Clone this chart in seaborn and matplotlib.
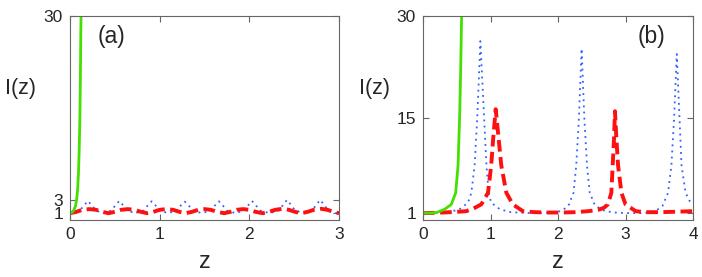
import numpy as np
import pandas as pd
import seaborn as sns
from matplotlib import pyplot as plt

#%% DATA

# panel (a)
za_green = [0, 0.02, 0.04, 0.06, 0.074, 0.085, 0.095, 0.103, 0.11, 0.116, 0.12, 0.124]
Ia_green = [1, 1.1, 1.4, 2.0, 3.0, 4.5, 7, 10.5, 15, 21, 27, 31]

za_blue = [0, 0.11, 0.16, 0.20, 0.24, 0.29, 0.375, 0.46, 0.51, 0.55, 0.59, 0.64,
           0.73, 0.82, 0.87, 0.91, 0.95, 1.0, 1.095, 1.19, 1.24, 1.28, 1.32, 1.37,
           1.47, 1.57, 1.62, 1.66, 1.70, 1.75, 1.845, 1.94, 1.99, 2.03, 2.07, 2.12,
           2.225, 2.33, 2.38, 2.42, 2.46, 2.51, 2.605, 2.70, 2.75, 2.79, 2.83, 2.88,
           2.97, 3.0]
Ia_blue = [1.0, 1.4, 2.2, 2.8, 2.2, 1.4, 1.0, 1.4, 2.2, 2.8, 2.2, 1.4,
           1.0, 1.4, 2.2, 2.75, 2.2, 1.4, 1.0, 1.4, 2.2, 2.7, 2.2, 1.4,
           1.0, 1.4, 2.2, 2.75, 2.2, 1.4, 1.0, 1.4, 2.2, 2.8, 2.2, 1.4,
           1.0, 1.4, 2.3, 2.95, 2.3, 1.4, 1.0, 1.4, 2.3, 2.95, 2.3, 1.4,
           1.0, 1.05]

za_red = [0, 0.07, 0.14, 0.215, 0.29, 0.36, 0.43, 0.50, 0.57, 0.645, 0.72, 0.79,
          0.86, 0.93, 1.0, 1.075, 1.15, 1.22, 1.29, 1.36, 1.43, 1.5, 1.57, 1.64,
          1.72, 1.79, 1.86, 1.93, 2.0, 2.07, 2.15, 2.22, 2.29, 2.37, 2.44, 2.51,
          2.58, 2.65, 2.72, 2.80, 2.87, 2.94, 3.0]
Ia_red = [1.0, 1.2, 1.5, 1.6, 1.5, 1.2, 1.0, 1.2, 1.5, 1.6, 1.5, 1.2,
          1.0, 1.2, 1.5, 1.6, 1.5, 1.2, 1.0, 1.2, 1.5, 1.6, 1.5, 1.2,
          1.0, 1.2, 1.5, 1.6, 1.5, 1.2, 1.0, 1.2, 1.5, 1.65, 1.5, 1.2,
          1.0, 1.2, 1.5, 1.65, 1.5, 1.2, 1.0]

# panel (b)
zb_green = [0, 0.1, 0.2, 0.32, 0.42, 0.484, 0.519, 0.543, 0.558, 0.568, 0.575]
Ib_green = [1, 1.02, 1.1, 1.57, 2.3, 4.0, 8.0, 15.3, 22, 28, 31]

zb_blue = [0, 0.2, 0.4, 0.54, 0.667, 0.716, 0.765, 0.805, 0.85, 0.904, 0.94, 0.973,
           1.01, 1.14, 1.3, 1.5, 1.7, 1.85, 1.95, 2.05, 2.155, 2.23, 2.27, 2.31,
           2.35, 2.39, 2.43, 2.47, 2.55, 2.70, 2.85, 3.0, 3.2, 3.35, 3.45, 3.55,
           3.63, 3.68, 3.72, 3.76, 3.80, 3.83, 3.89, 3.95, 4.0]
Ib_blue = [1.0, 1.05, 1.2, 1.57, 2.55, 4.0, 8.0, 15.3, 26.3, 15.3, 8.0, 4.0,
           2.55, 1.57, 1.15, 1.05, 1.0, 1.1, 1.2, 1.3, 2.1, 4.0, 8.0, 15,
           25.2, 15, 8.0, 4.0, 2.1, 1.3, 1.1, 1.02, 1.0, 1.1, 1.35, 2.1,
           4.0, 8.0, 15, 24.4, 15, 8.0, 4.0, 2.8, 2.3]

zb_red = [0, 0.3, 0.5, 0.64, 0.75, 0.864, 0.963, 1.01, 1.04, 1.077, 1.12, 1.16,
          1.235, 1.33, 1.48, 1.65, 1.85, 2.05, 2.25, 2.45, 2.6, 2.68, 2.74, 2.79,
          2.81, 2.83, 2.844, 2.865, 2.89, 2.94, 3.0, 3.15, 3.3, 3.5, 3.7, 4.0]
Ib_red = [1.0, 1.1, 1.2, 1.3, 1.7, 2.3, 4.0, 8.0, 12, 16.3, 12, 8.0,
          4.0, 2.3, 1.3, 1.15, 1.1, 1.1, 1.15, 1.3, 1.5, 1.8, 2.3, 4.0,
          8.0, 12, 16.0, 12, 8.0, 4.0, 2.3, 1.3, 1.15, 1.15, 1.2, 1.3]

#%% STYLE

sns.set_style('ticks')
plt.rcParams['font.family'] = ['Liberation Sans', 'DejaVu Sans']
plt.rcParams['xtick.direction'] = 'in'
plt.rcParams['ytick.direction'] = 'in'

green = '#44e000'
blue = '#3060ff'
red = '#ff1010'
edge = '#666666'

fig = plt.figure(figsize=(7.02, 2.77), dpi=100)
ax_a = fig.add_axes([70 / 702, 57 / 277, 269 / 702, 204 / 277])
ax_b = fig.add_axes([423 / 702, 57 / 277, 270 / 702, 204 / 277])

panels = [
    (ax_a, za_green, Ia_green, za_blue, Ia_blue, za_red, Ia_red, 3, [1, 3, 30], '(a)', 0.104, -0.183),
    (ax_b, zb_green, Ib_green, zb_blue, Ib_blue, zb_red, Ib_red, 4, [1, 15, 30], '(b)', 0.796, -0.178),
]

#%% PLOT

for ax, zg, Ig, zbl, Ibl, zr, Ir, xmax, yt, tag, tx, lx in panels:
    sns.lineplot(x=zbl, y=Ibl, ax=ax, color=blue, lw=1.3, estimator=None)
    ax.lines[-1].set_linestyle((0, (1, 2.4)))
    sns.lineplot(x=zr, y=Ir, ax=ax, color=red, lw=2.8, estimator=None)
    ax.lines[-1].set_linestyle((0, (3, 1.4)))
    sns.lineplot(x=zg, y=Ig, ax=ax, color=green, lw=2.0, estimator=None)
    ax.set_xlim(0, xmax)
    ax.set_ylim(0, 30)
    ax.set_xticks(range(xmax + 1))
    ax.set_yticks(yt)
    ax.tick_params(top=True, right=True, labelsize=12.5, length=4, color=edge)
    ax.tick_params(axis='x', pad=5)
    ax.tick_params(axis='y', pad=5)
    for sp in ax.spines.values():
        sp.set_color(edge)
        sp.set_linewidth(0.8)
    ax.set_xlabel('z', fontsize=17, va='baseline')
    ax.xaxis.set_label_coords(0.5, -0.235)
    ax.set_ylabel('I(z)', fontsize=15.5, rotation=0, va='center', ha='center')
    ax.yaxis.set_label_coords(lx, 0.647)
    ax.text(tx, 0.898, tag, transform=ax.transAxes, fontsize=16.5, ha='left', va='center')

fig.savefig('out.png', dpi=100)
